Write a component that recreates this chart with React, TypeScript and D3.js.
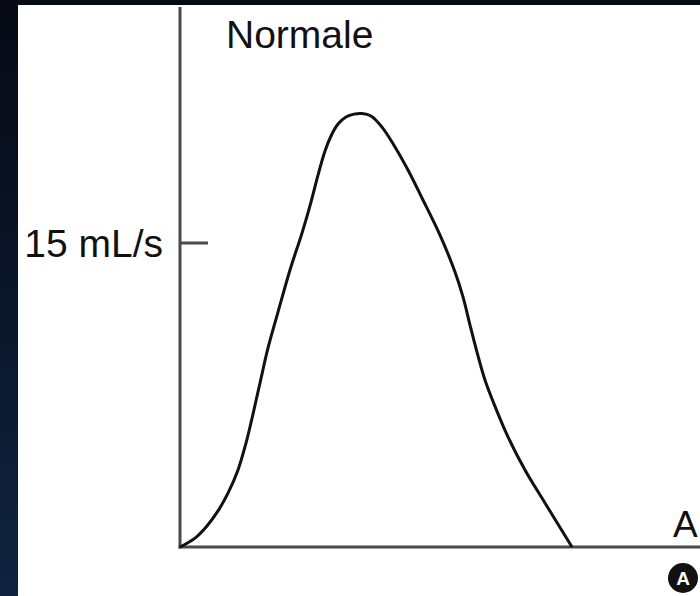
import React from "react";
import * as d3 from "d3";

// Expiratory flow curve: time (s) vs flow (mL/s)
const timeValues = [
  0, 0.75, 1.35, 1.9, 2.4, 2.9, 3.3, 3.65, 4.0, 4.4, 4.9, 5.5, 6.1, 6.55, 6.9, 7.25,
  7.55, 7.9, 8.3, 8.7, 9.1, 9.55, 10.1, 10.75, 11.4, 12.1, 13.0, 13.75, 14.15, 14.5,
  14.85, 15.25, 15.7, 16.4, 17.25, 18.25, 19.6,
];
const flowValues = [
  0, 0.44, 1.04, 1.78, 2.66, 3.8, 5.13, 6.56, 8.09, 9.82, 11.59, 13.67, 15.49, 17.02,
  18.35, 19.54, 20.28, 20.87, 21.22, 21.36, 21.39, 21.27, 20.72, 19.74, 18.6, 17.22,
  15.39, 13.57, 12.34, 10.95, 9.62, 8.24, 7.06, 5.43, 3.8, 2.17, 0,
];
const yTickValues = [15];
const yTickLabels = ["15 mL/s"];
const title = "Normale";
const xAxisLabel = "A";
const panelBadge = "A";

const W = 700;
const H = 596;
const origin = { x: 180, y: 547 };

export default function App() {
  const x = d3.scaleLinear().domain([0, 26]).range([origin.x, origin.x + 520]);
  const y = d3.scaleLinear().domain([0, 15]).range([origin.y, 243]);

  const points = timeValues.map((t, i) => [t, flowValues[i]] as [number, number]);
  const line = d3
    .line<[number, number]>()
    .x((d) => x(d[0]))
    .y((d) => y(d[1]))
    .curve(d3.curveCatmullRom.alpha(0.5));

  const font = "'Liberation Sans', Arial, Helvetica, sans-serif";

  return (
    <svg
      width={W}
      height={H}
      style={{ position: "absolute", left: 0, top: 0, display: "block" }}
    >
      <defs>
        <linearGradient id="bg" x1="0" y1="0" x2="0" y2="1">
          <stop offset="0" stopColor="#050a13" />
          <stop offset="0.5" stopColor="#0a1629" />
          <stop offset="1" stopColor="#10233f" />
        </linearGradient>
      </defs>
      <rect x={0} y={0} width={W} height={H} fill="url(#bg)" />
      <rect x={18} y={5} width={W - 18} height={H - 5} fill="#ffffff" />

      {/* axes */}
      <line x1={origin.x} y1={7} x2={origin.x} y2={origin.y + 1.5} stroke="#4a4a4a" strokeWidth={3} />
      <line x1={origin.x - 1.5} y1={origin.y} x2={W} y2={origin.y} stroke="#4a4a4a" strokeWidth={3} />

      {/* y tick */}
      {yTickValues.map((v, i) => (
        <g key={v}>
          <line x1={origin.x} y1={y(v)} x2={origin.x + 28} y2={y(v)} stroke="#4a4a4a" strokeWidth={3} />
          <text
            x={origin.x - 17}
            y={y(v) + 14}
            textAnchor="end"
            fontFamily={font}
            fontSize={39}
            fill="#111"
          >
            {yTickLabels[i]}
          </text>
        </g>
      ))}

      {/* flow curve */}
      <path d={line(points) ?? ""} fill="none" stroke="#111" strokeWidth={3} strokeLinejoin="round" />

      {/* labels */}
      <text x={226} y={48} fontFamily={font} fontSize={39} fill="#111">
        {title}
      </text>
      <text x={673} y={537} fontFamily={font} fontSize={37} fill="#111">
        {xAxisLabel}
      </text>
      <circle cx={683} cy={578} r={15} fill="#111" />
      <text
        x={683}
        y={585}
        textAnchor="middle"
        fontFamily={font}
        fontWeight="bold"
        fontSize={19}
        fill="#fff"
      >
        {panelBadge}
      </text>
    </svg>
  );
}
